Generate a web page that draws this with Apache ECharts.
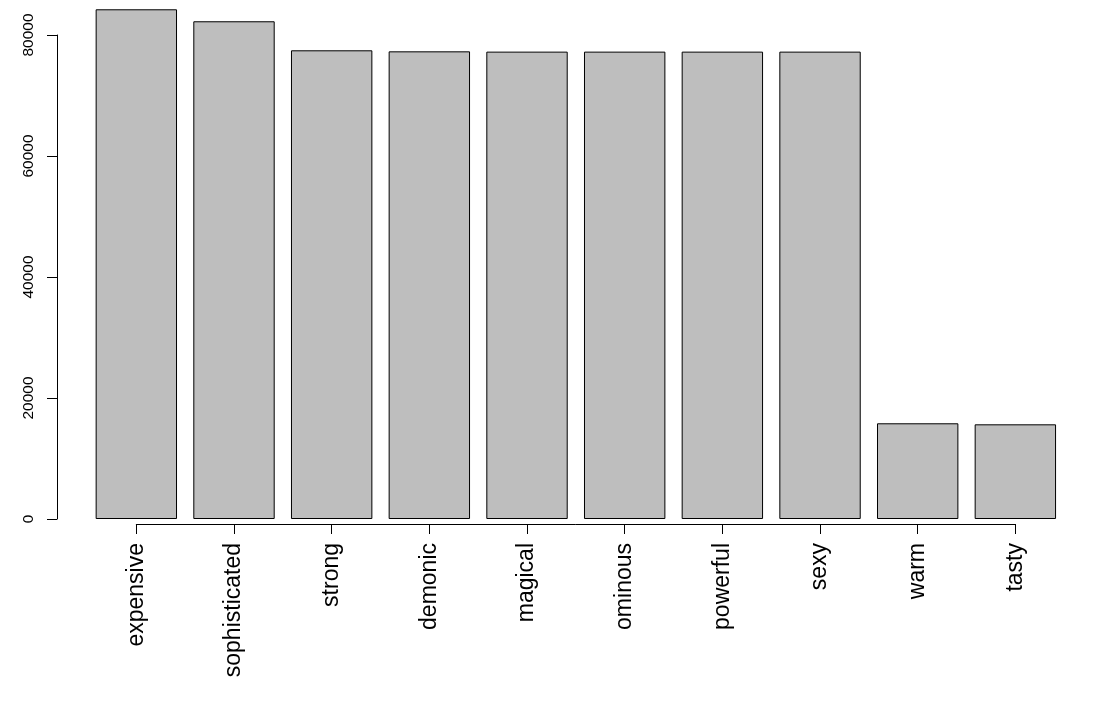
<!DOCTYPE html>
<html>
<head>
<meta charset="utf-8">
<script src="https://cdn.jsdelivr.net/npm/echarts@6/dist/echarts.min.js"></script>
<style>
  html, body { margin: 0; padding: 0; background: #fff; }
  #chart { width: 1100px; height: 707px; }
</style>
</head>
<body>
<div id="chart"></div>
<script>
// data
const categories = ['expensive', 'sophisticated', 'strong', 'demonic', 'magical', 'ominous', 'powerful', 'sexy', 'warm', 'tasty']
const counts = [84250, 82270, 77470, 77300, 77250, 77250, 77250, 77250, 15820, 15650]
const yTickStep = 20000
const yMax = 80000

const chart = echarts.init(document.getElementById('chart'))
const font = 'Liberation Sans, Arial, sans-serif'

const option = {
  animation: false,
  textStyle: { fontFamily: font, color: '#000' },
  grid: [
    // bars + y axis (axis pushed out to the left like R does)
    { left: 87.5, right: 35.8, top: 35, bottom: 188 },
    // x axis only, from first to last bar centre
    { left: 136.3, right: 84.7, top: 520, bottom: 183 }
  ],
  xAxis: [
    {
      gridIndex: 0,
      type: 'category',
      data: categories,
      show: false
    },
    {
      gridIndex: 1,
      type: 'category',
      data: categories,
      boundaryGap: false,
      position: 'bottom',
      axisLine: { lineStyle: { color: '#000', width: 1 } },
      axisTick: { length: 10, lineStyle: { color: '#000' }, alignWithLabel: true },
      axisLabel: {
        rotate: 90,
        interval: 0,
        margin: 19,
        fontSize: 23,
        color: '#000',
        fontFamily: font
      },
      splitLine: { show: false }
    }
  ],
  yAxis: [
    {
      gridIndex: 0,
      type: 'value',
      min: 0,
      max: yMax,
      interval: yTickStep,
      offset: 30.5,
      axisLine: { show: true, lineStyle: { color: '#000', width: 1 } },
      axisTick: { show: true, length: 10, lineStyle: { color: '#000' } },
      axisLabel: {
        rotate: 90,
        margin: 20,
        fontSize: 15.5,
        color: '#000',
        fontFamily: font,
        formatter: v => String(v)
      },
      splitLine: { show: false }
    },
    {
      gridIndex: 1,
      type: 'value',
      show: false
    }
  ],
  series: [
    {
      type: 'bar',
      xAxisIndex: 0,
      yAxisIndex: 0,
      data: counts,
      clip: false,
      barCategoryGap: '16.67%',
      itemStyle: {
        color: '#BEBEBE',
        borderColor: '#000',
        borderWidth: 1
      }
    }
  ]
}

chart.setOption(option)
</script>
</body>
</html>
